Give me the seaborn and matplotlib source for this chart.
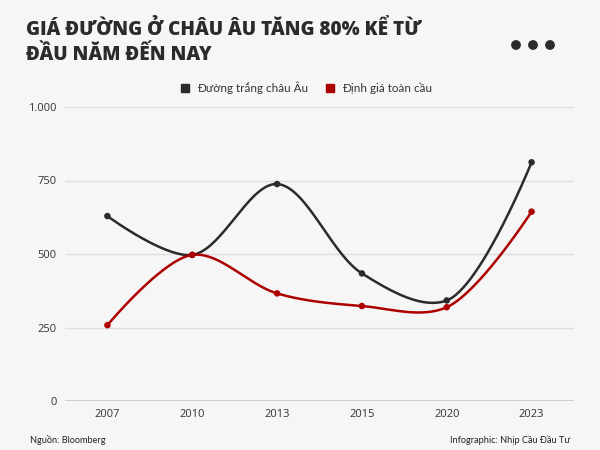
import numpy as np
import pandas as pd
import matplotlib
matplotlib.use("Agg")
import matplotlib.pyplot as plt
from matplotlib.patches import Ellipse
from matplotlib.lines import Line2D
import seaborn as sns

years = ["2007", "2010", "2013", "2015", "2020", "2023"]
eu_white = [629, 497, 738, 434, 342, 812]
global_price = [258, 497, 366, 323, 319, 644]
series_names = ["Đường trắng châu Âu", "Định giá toàn cầu"]
colors = ["#2b2b2b", "#ad0000"]
yticks = [0, 250, 500, 750, 1000]
ytick_labels = ["0", "250", "500", "750", "1.000"]

# pixel scales of the plot area (used only to shape the smooth curve)
PX_PER_CAT = 85.0
PX_PER_UNIT = 0.294


def catmull_rom(ys, n=60, alpha=0.5):
    """Centripetal Catmull-Rom (d3.curveCatmullRom) through points, x = category index."""
    P = np.column_stack([np.arange(len(ys)) * PX_PER_CAT, np.asarray(ys, float) * PX_PER_UNIT])
    m = len(P)
    eps = 1e-12
    outs = [P[0]]
    t = np.linspace(0, 1, n)[1:]
    for i in range(m - 1):
        p0 = P[i - 1] if i > 0 else P[i]
        p1 = P[i]
        p2 = P[i + 1]
        p3 = P[i + 2] if i + 2 < m else P[i + 1]
        l01 = np.hypot(*(p1 - p0))
        l12 = np.hypot(*(p2 - p1))
        l23 = np.hypot(*(p3 - p2))
        l01_a, l12_a, l23_a = l01 ** alpha, l12 ** alpha, l23 ** alpha
        l01_2a, l12_2a, l23_2a = l01 ** (2 * alpha), l12 ** (2 * alpha), l23 ** (2 * alpha)
        c1 = p1.copy()
        c2 = p2.copy()
        if l01_a > eps:
            a = 2 * l01_2a + 3 * l01_a * l12_a + l12_2a
            nn = 3 * l01_a * (l01_a + l12_a)
            c1 = (p1 * a - p0 * l12_2a + p2 * l01_2a) / nn
        if l23_a > eps:
            b = 2 * l23_2a + 3 * l23_a * l12_a + l12_2a
            mm = 3 * l23_a * (l23_a + l12_a)
            c2 = (p2 * b + p1 * l23_2a - p3 * l12_2a) / mm
        for tt in t:
            pt = ((1 - tt) ** 3) * p1 + 3 * ((1 - tt) ** 2) * tt * c1 + 3 * (1 - tt) * tt ** 2 * c2 + tt ** 3 * p2
            outs.append(pt)
    outs = np.array(outs)
    return outs[:, 0] / PX_PER_CAT, outs[:, 1] / PX_PER_UNIT


sns.set_theme(style="white")
plt.rcParams["font.family"] = ["Lato", "DejaVu Sans"]
bg = "#f6f6f6"

fig = plt.figure(figsize=(6, 4.5), dpi=100, facecolor=bg)
ax = fig.add_axes([65 / 600, 49 / 450, 509 / 600, 294 / 450], facecolor=bg)

curve_frames = []
point_frames = []
for name, vals in zip(series_names, [eu_white, global_price]):
    cx, cy = catmull_rom(vals)
    curve_frames.append(pd.DataFrame({"x": cx, "y": cy, "series": name}))
    point_frames.append(pd.DataFrame({"x": np.arange(len(years)), "y": vals, "series": name}))
curves = pd.concat(curve_frames, ignore_index=True)
points = pd.concat(point_frames, ignore_index=True)
palette = dict(zip(series_names, colors))

sns.lineplot(data=curves, x="x", y="y", hue="series", palette=palette, ax=ax,
             linewidth=1.8, legend=False, sort=False, estimator=None)
sns.scatterplot(data=points, x="x", y="y", hue="series", palette=palette, ax=ax,
                s=22, edgecolor="none", legend=False, zorder=5)

ax.set_xlim(-0.5, len(years) - 0.5)
ax.set_ylim(0, 1000)
ax.set_xticks(range(len(years)))
ax.set_xticklabels(years, fontfamily=["Open Sans", "DejaVu Sans"])
ax.set_yticks(yticks)
ax.set_yticklabels(ytick_labels, fontfamily=["Open Sans", "DejaVu Sans"])
ax.set_xlabel("")
ax.set_ylabel("")
for s in ax.spines.values():
    s.set_visible(False)
ax.grid(axis="y", color="#dedede", linewidth=1)
ax.set_axisbelow(True)
ax.axhline(0, color="#c8c8c8", linewidth=1.2, zorder=1)
ax.tick_params(axis="both", length=0, labelsize=8, colors="#333333")
ax.tick_params(axis="x", pad=6)
ax.tick_params(axis="y", pad=6)

# Title
for txt, ybase in [("GIÁ ĐƯỜNG Ở CHÂU ÂU TĂNG 80% KỂ TỪ", 35), ("ĐẦU NĂM ĐẾN NAY", 60)]:
    fig.text(26 / 600, 1 - ybase / 450, txt,
             fontsize=13.7, fontweight=800, color="#2b2b2b", va="baseline", ha="left",
             family=["Open Sans", "DejaVu Sans"])

# three dots
for px in [516, 533, 550]:
    fig.patches.append(Ellipse((px / 600, 1 - 45 / 450), 8.4 / 600, 8.4 / 450,
                               transform=fig.transFigure, color="#2b2b2b"))

# legend
handles = [Line2D([], [], marker="s", linestyle="none", color=c, markersize=5.5) for c in colors]
fig.legend(handles, series_names, loc="center", bbox_to_anchor=(306 / 600, 1 - 88 / 450),
           ncol=2, frameon=False, fontsize=8.4, handlelength=0.8, handletextpad=0.6,
           columnspacing=1.5, labelcolor="#333333")

# footer
fig.text(30 / 600, 1 - 440 / 450, "Nguồn: Bloomberg", fontsize=6.6, color="#222222",
         ha="left", va="center")
fig.text(570 / 600, 1 - 440 / 450, "Infographic: Nhịp Cầu Đầu Tư", fontsize=6.6,
         color="#222222", ha="right", va="center")

fig.savefig("out.png", dpi=100, facecolor=bg)
